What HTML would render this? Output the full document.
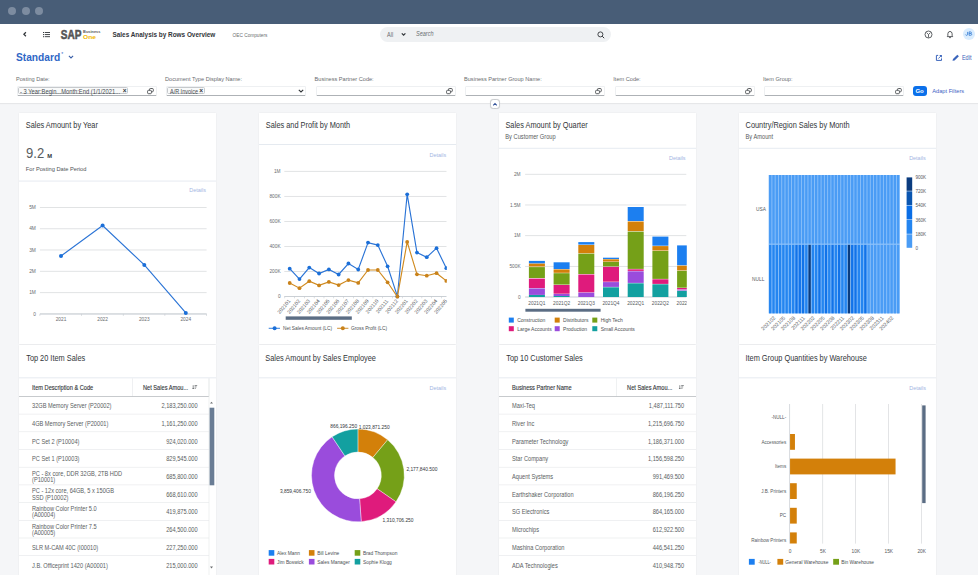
<!DOCTYPE html>
<html><head><meta charset="utf-8">
<style>
*{margin:0;padding:0;box-sizing:border-box}
html,body{width:978px;height:575px;overflow:hidden;background:#f5f6f8;font-family:"Liberation Sans",sans-serif;color:#32363a}
.a{position:absolute;white-space:nowrap}
#top{position:absolute;left:0;top:0;width:978px;height:23.5px;background:#485d77}
.dot{position:absolute;top:6.9px;width:8.3px;height:8.3px;border-radius:50%;background:#7d8ca0}
#shell{position:absolute;left:0;top:23.5px;width:978px;height:79.5px;background:#fff;box-shadow:0 1px 1px rgba(0,0,0,.06)}
.lbl{position:absolute;top:75.5px;font-size:5.6px;color:#6a6d70}
.inp{position:absolute;top:85.5px;width:140px;height:10px;background:#fff;border:0.5px solid #eef0f2;border-bottom:1px solid #aeb2b6;border-radius:1.5px}
.card{position:absolute;background:#fff;width:197px;box-shadow:0 0 1.5px rgba(0,0,0,.08)}
.ttl{position:absolute;left:7px;font-size:7.8px;letter-spacing:-0.2px;color:#32363a}
.sub{position:absolute;left:7px;font-size:5.6px;color:#6a6d70}
.det{position:absolute;right:10px;font-size:5.4px;color:#a5c4ea}
</style></head><body>
<div id="top">
  <div class="dot" style="left:7.9px"></div>
  <div class="dot" style="left:21.8px"></div>
  <div class="dot" style="left:34.8px"></div>
</div>
<div id="shell"></div>
<!-- shell bar -->
<svg class="a" style="left:22px;top:31px" width="6" height="7" viewBox="0 0 6 7"><path d="M3.9 1.3 L1.9 3.3 L3.9 5.3" fill="none" stroke="#32363a" stroke-width="1.25"/></svg>
<svg class="a" style="left:43px;top:31px" width="8" height="7" viewBox="0 0 8 7"><g fill="#32363a"><rect x="0" y="1" width="1.1" height="1"/><rect x="0" y="3.1" width="1.1" height="1"/><rect x="0" y="5.2" width="1.1" height="1"/><rect x="1.8" y="1.05" width="5.2" height="0.9"/><rect x="1.8" y="3.15" width="5.2" height="0.9"/><rect x="1.8" y="5.25" width="5.2" height="0.9"/></g></svg>
<svg class="a" style="left:55px;top:26px" width="50" height="18" viewBox="55 26 50 18" font-family="Liberation Sans" font-weight="bold"><text transform="translate(60.7 38.8) scale(0.8 1)" font-size="12.6" fill="#545454" stroke="#545454" stroke-width="0.55">SAP</text><text x="83.1" y="33.3" font-size="3.9" fill="#5a5a5a">Business</text><text transform="translate(83.1 38.6) scale(1.16 1)" font-size="5.7" fill="#f2b600">One</text></svg>


<svg class="a" style="left:110px;top:26px" width="170" height="16" viewBox="110 26 170 16" font-family="Liberation Sans"><text transform="translate(112.5 37.1) scale(0.866 1)" font-size="7.4" font-weight="bold" fill="#32363a">Sales Analysis by Rows Overview</text><text transform="translate(232.6 37.0) scale(0.88 1)" font-size="5.4" fill="#6a6d70">OEC Computers</text></svg>

<div class="a" style="left:380px;top:27px;width:231px;height:15px;border-radius:7.5px;background:#eff1f3"></div>
<svg class="a" style="left:380px;top:27px" width="60" height="15" viewBox="380 27 60 15" font-family="Liberation Sans"><text transform="translate(387 36.6) scale(0.86 1)" font-size="6.4" fill="#6a6d70">All</text><text transform="translate(416.1 36.4) scale(0.86 1)" font-size="6.4" font-style="italic" fill="#6a6d70">Search</text><path d="M401.8 33.4 L403.6 35.2 L405.4 33.4" fill="none" stroke="#32363a" stroke-width="1.25"/></svg>


<svg class="a" style="left:597px;top:31px" width="8" height="8" viewBox="0 0 8 8"><circle cx="3.4" cy="3.4" r="2.5" fill="none" stroke="#32363a" stroke-width="0.9"/><path d="M5.2 5.2 L7.2 7.2" stroke="#32363a" stroke-width="1"/></svg>
<svg class="a" style="left:924px;top:29.8px" width="9" height="9" viewBox="0 0 9 9"><circle cx="4.5" cy="4.5" r="3.5" fill="none" stroke="#45494d" stroke-width="0.85"/><path d="M2.6 2.6 L4.5 4.6 L6.4 2.6 M4.5 4.6 L4.5 7.6" fill="none" stroke="#45494d" stroke-width="0.8"/></svg>
<svg class="a" style="left:945.8px;top:29.9px" width="8" height="9" viewBox="0 0 8 9"><path d="M1.3 6.6 L1.8 5.8 L1.9 3.6 Q2.1 1.5 4 1.4 Q5.9 1.5 6.1 3.6 L6.2 5.8 L6.7 6.6 Z" fill="none" stroke="#32363a" stroke-width="0.8"/><path d="M3.1 7.6 L4.9 7.6" stroke="#32363a" stroke-width="0.8"/></svg>
<div class="a" style="left:962.5px;top:28.2px;width:12px;height:12px;border-radius:50%;background:#d9ecfe"></div>
<svg class="a" style="left:962px;top:28px" width="14" height="12" viewBox="0 0 14 12" font-family="Liberation Sans"><g fill="none" stroke="#3a7fd5" stroke-width="0.85"><path d="M5.6 3.9 L5.6 6.4 Q5.6 7.3 4.6 7.3 Q3.8 7.3 3.5 6.6"/><path d="M7.1 3.9 L7.1 7.3 L8.6 7.3 Q9.7 7.3 9.7 6.35 Q9.7 5.5 8.5 5.5 L7.1 5.5 M7.1 3.9 L8.4 3.9 Q9.4 3.9 9.4 4.7 Q9.4 5.5 8.4 5.5"/></g></svg>
<!-- page header -->
<div class="a" style="left:16px;top:52.1px;font-size:10.2px;font-weight:bold;color:#2f67c6;line-height:12px">Standard</div>
<div class="a" style="left:61.3px;top:51.3px;font-size:5px;color:#2f67c6;line-height:6px">*</div>
<svg class="a" style="left:67.5px;top:55.2px" width="6" height="4" viewBox="0 0 6 4"><path d="M0.9 0.9 L3 3 L5.1 0.9" fill="none" stroke="#3a5fa8" stroke-width="1.1"/></svg>
<svg class="a" style="left:935px;top:54px" width="8" height="8" viewBox="0 0 8 8"><path d="M3.2 1.4 L1.4 1.4 L1.4 6.4 L6.5 6.4 L6.5 4.4" fill="none" stroke="#3a64bb" stroke-width="1"/><path d="M3.3 4.6 L6.1 1.8" fill="none" stroke="#3a64bb" stroke-width="0.9"/><path d="M4.2 1.0 L6.9 1.0 L6.9 3.7 Z" fill="#3a64bb"/></svg>
<svg class="a" style="left:952px;top:54px" width="8" height="8" viewBox="0 0 8 8"><path d="M0.5 6.7 L1.0 5.0 L5.3 0.7 L6.9 2.3 L2.6 6.6 Z" fill="#3a64bb"/></svg>
<svg class="a" style="left:960px;top:52px" width="18" height="10" viewBox="960 52 18 10" font-family="Liberation Sans"><text transform="translate(961.9 59.7) scale(0.84 1)" font-size="6.6" fill="#3a64bb">Edit</text></svg>
<!-- filter bar -->
<div class="lbl" style="left:16px">Posting Date:</div>
<div class="lbl" style="left:165px">Document Type Display Name:</div>
<div class="lbl" style="left:314.6px">Business Partner Code:</div>
<div class="lbl" style="left:464px">Business Partner Group Name:</div>
<div class="lbl" style="left:613.3px">Item Code:</div>
<div class="lbl" style="left:763px">Item Group:</div>
<div class="inp" style="left:16.5px"></div>
<div class="inp" style="left:166px"></div>
<div class="inp" style="left:315.5px"></div>
<div class="inp" style="left:465px"></div>
<div class="inp" style="left:614.5px"></div>
<div class="inp" style="left:764px"></div>

<div class="a" style="left:18.3px;top:87.2px;width:110px;height:6.8px;background:#f9fafa;border:0.5px solid #c6c9cc;border-radius:1.5px"></div>
<div class="a" style="left:20.1px;top:87.5px;font-size:6.5px;color:#484c50;line-height:7px;transform:scaleX(0.89);transform-origin:0 0">- 3 Year:Begin...Month:End (1/1/2021...</div>
<div class="a" style="left:122.7px;top:87px;font-size:6.5px;font-weight:bold;color:#32363a;line-height:7px">&#215;</div>
<svg class="a" style="left:147.4px;top:87.9px" width="7" height="7" viewBox="0 0 7 7"><rect x="2.5" y="0.5" width="3.8" height="3.3" rx="0.9" fill="none" stroke="#3d4145" stroke-width="0.85"/><rect x="0.6" y="2.3" width="3.8" height="3.4" rx="0.9" fill="#fff" stroke="#3d4145" stroke-width="0.85"/></svg>
<div class="a" style="left:166.6px;top:87.2px;width:38px;height:6.8px;background:#f9fafa;border:0.5px solid #c6c9cc;border-radius:1.5px"></div>
<div class="a" style="left:170px;top:87.5px;font-size:6.5px;color:#484c50;line-height:7px;transform:scaleX(0.84);transform-origin:0 0">A/R Invoice</div>
<div class="a" style="left:199.2px;top:87px;font-size:6.5px;font-weight:bold;color:#32363a;line-height:7px">&#215;</div>
<svg class="a" style="left:298px;top:89px" width="6" height="4" viewBox="0 0 6 4"><path d="M0.8 0.8 L3 3 L5.2 0.8" fill="none" stroke="#32363a" stroke-width="1.1"/></svg>
<svg class="a" style="left:445.9px;top:87.9px" width="7" height="7" viewBox="0 0 7 7"><rect x="2.5" y="0.5" width="3.8" height="3.3" rx="0.9" fill="none" stroke="#3d4145" stroke-width="0.85"/><rect x="0.6" y="2.3" width="3.8" height="3.4" rx="0.9" fill="#fff" stroke="#3d4145" stroke-width="0.85"/></svg><svg class="a" style="left:595.4px;top:87.9px" width="7" height="7" viewBox="0 0 7 7"><rect x="2.5" y="0.5" width="3.8" height="3.3" rx="0.9" fill="none" stroke="#3d4145" stroke-width="0.85"/><rect x="0.6" y="2.3" width="3.8" height="3.4" rx="0.9" fill="#fff" stroke="#3d4145" stroke-width="0.85"/></svg><svg class="a" style="left:744.9px;top:87.9px" width="7" height="7" viewBox="0 0 7 7"><rect x="2.5" y="0.5" width="3.8" height="3.3" rx="0.9" fill="none" stroke="#3d4145" stroke-width="0.85"/><rect x="0.6" y="2.3" width="3.8" height="3.4" rx="0.9" fill="#fff" stroke="#3d4145" stroke-width="0.85"/></svg><svg class="a" style="left:895.4px;top:87.9px" width="7" height="7" viewBox="0 0 7 7"><rect x="2.5" y="0.5" width="3.8" height="3.3" rx="0.9" fill="none" stroke="#3d4145" stroke-width="0.85"/><rect x="0.6" y="2.3" width="3.8" height="3.4" rx="0.9" fill="#fff" stroke="#3d4145" stroke-width="0.85"/></svg>
<div class="a" style="left:912.7px;top:85.8px;width:14px;height:9.8px;border-radius:3px;background:#0b70ea"></div>
<div class="a" style="left:915.4px;top:87.6px;font-size:6px;font-weight:bold;color:#fff;line-height:7px">Go</div>
<div class="a" style="left:932.2px;top:87.6px;font-size:5.7px;color:#3d62c4;line-height:7px">Adapt Filters</div>
<div class="a" style="left:490.3px;top:99.3px;width:9.8px;height:9.8px;border-radius:3.2px;background:#fff;border:0.8px solid #c9cccf;box-shadow:0 0 1px rgba(0,0,0,.1)"></div>
<svg class="a" style="left:492.2px;top:101.6px" width="6" height="5" viewBox="0 0 6 5"><path d="M1.2 3.3 L3 1.5 L4.8 3.3" fill="none" stroke="#34549a" stroke-width="1.05"/></svg>
<!-- cards row 1 -->
<div class="card" style="left:19px;top:113px;height:230.8px"></div>
<!--card1-->
<svg class="a" style="left:19px;top:113px;overflow:hidden" width="197" height="230" viewBox="19 113 197 230" font-family="Liberation Sans">
<text transform="translate(25.80 127.70) scale(0.858 1)" font-size="8.6" fill="#32363a">Sales Amount by Year</text>
<text transform="translate(26.00 157.80) scale(0.86 1)" font-size="15.2" fill="#5a5e62">9.2</text>
<text x="47.2" y="158" font-size="5.8" font-weight="bold" fill="#32363a">M</text>
<text transform="translate(25.80 171.00) scale(0.965 1)" font-size="5.9" fill="#505458">For Posting Date Period</text>
<rect x="19" y="180.6" width="197" height="0.9" fill="#e3e8ef"/>
<text transform="translate(205.90 192.40) scale(0.88 1)" font-size="6.2" text-anchor="end" fill="#a3b5e3">Details</text>
<rect x="39.9" y="207.05" width="166.7" height="0.85" fill="#dcdee0"/>
<text x="35.8" y="209.1" font-size="4.8" text-anchor="end" fill="#6a6d70">5M</text>
<rect x="39.9" y="228.35" width="166.7" height="0.85" fill="#dcdee0"/>
<text x="35.8" y="230.39999999999998" font-size="4.8" text-anchor="end" fill="#6a6d70">4M</text>
<rect x="39.9" y="249.55" width="166.7" height="0.85" fill="#dcdee0"/>
<text x="35.8" y="251.6" font-size="4.8" text-anchor="end" fill="#6a6d70">3M</text>
<rect x="39.9" y="270.84999999999997" width="166.7" height="0.85" fill="#dcdee0"/>
<text x="35.8" y="272.9" font-size="4.8" text-anchor="end" fill="#6a6d70">2M</text>
<rect x="39.9" y="292.25" width="166.7" height="0.85" fill="#dcdee0"/>
<text x="35.8" y="294.3" font-size="4.8" text-anchor="end" fill="#6a6d70">1M</text>
<rect x="39.9" y="313.54999999999995" width="166.7" height="0.85" fill="#dcdee0"/>
<text x="35.8" y="315.59999999999997" font-size="4.8" text-anchor="end" fill="#6a6d70">0</text>
<rect x="39.9" y="313.5" width="166.7" height="0.9" fill="#c6cbd1"/>
<rect x="39.6" y="313.9" width="0.6" height="2" fill="#c6cbd1"/>
<rect x="81.3" y="313.9" width="0.6" height="2" fill="#c6cbd1"/>
<rect x="122.9" y="313.9" width="0.6" height="2" fill="#c6cbd1"/>
<rect x="164.6" y="313.9" width="0.6" height="2" fill="#c6cbd1"/>
<rect x="206.29999999999998" y="313.9" width="0.6" height="2" fill="#c6cbd1"/>
<text x="61" y="321.3" font-size="4.8" text-anchor="middle" fill="#6a6d70">2021</text>
<text x="102.6" y="321.3" font-size="4.8" text-anchor="middle" fill="#6a6d70">2022</text>
<text x="144.3" y="321.3" font-size="4.8" text-anchor="middle" fill="#6a6d70">2023</text>
<text x="185.8" y="321.3" font-size="4.8" text-anchor="middle" fill="#6a6d70">2024</text>
<polyline points="61,256 102.6,225.6 144.3,264.9 185.8,312.9" fill="none" stroke="#2b74d6" stroke-width="1.15"/>
<circle cx="61" cy="256" r="2.0" fill="#1b6fd8"/>
<circle cx="102.6" cy="225.6" r="2.0" fill="#1b6fd8"/>
<circle cx="144.3" cy="264.9" r="2.0" fill="#1b6fd8"/>
<circle cx="185.8" cy="312.9" r="2.0" fill="#1b6fd8"/>
</svg>
<!--/card1-->
<div class="card" style="left:259px;top:113px;height:230.8px"></div>
<!--card2-->
<svg class="a" style="left:259px;top:113px;overflow:hidden" width="197" height="230" viewBox="259 113 197 230" font-family="Liberation Sans">
<text transform="translate(265.80 127.70) scale(0.858 1)" font-size="8.6" fill="#32363a">Sales and Profit by Month</text>
<rect x="259" y="144.1" width="197" height="0.9" fill="#e3e8ef"/>
<text transform="translate(446.20 156.70) scale(0.88 1)" font-size="6.2" text-anchor="end" fill="#a3b5e3">Details</text>
<text x="280.6" y="298.20" font-size="4.8" text-anchor="end" fill="#6a6d70">0</text>
<rect x="284.3" y="271.10" width="162.2" height="0.85" fill="#dcdee0"/>
<text x="280.6" y="273.15" font-size="4.8" text-anchor="end" fill="#6a6d70">200K</text>
<rect x="284.3" y="246.05" width="162.2" height="0.85" fill="#dcdee0"/>
<text x="280.6" y="248.10" font-size="4.8" text-anchor="end" fill="#6a6d70">400K</text>
<rect x="284.3" y="221.00" width="162.2" height="0.85" fill="#dcdee0"/>
<text x="280.6" y="223.05" font-size="4.8" text-anchor="end" fill="#6a6d70">600K</text>
<rect x="284.3" y="195.95" width="162.2" height="0.85" fill="#dcdee0"/>
<text x="280.6" y="198.00" font-size="4.8" text-anchor="end" fill="#6a6d70">800K</text>
<rect x="284.3" y="170.90" width="162.2" height="0.85" fill="#dcdee0"/>
<text x="280.6" y="172.95" font-size="4.8" text-anchor="end" fill="#6a6d70">1M</text>
<rect x="284.3" y="296.05" width="162.2" height="0.9" fill="#c6cbd1"/>
<rect x="284.50" y="296.5" width="0.6" height="1.8" fill="#c6cbd1"/>
<rect x="294.29" y="296.5" width="0.6" height="1.8" fill="#c6cbd1"/>
<rect x="304.08" y="296.5" width="0.6" height="1.8" fill="#c6cbd1"/>
<rect x="313.87" y="296.5" width="0.6" height="1.8" fill="#c6cbd1"/>
<rect x="323.66" y="296.5" width="0.6" height="1.8" fill="#c6cbd1"/>
<rect x="333.45" y="296.5" width="0.6" height="1.8" fill="#c6cbd1"/>
<rect x="343.24" y="296.5" width="0.6" height="1.8" fill="#c6cbd1"/>
<rect x="353.03" y="296.5" width="0.6" height="1.8" fill="#c6cbd1"/>
<rect x="362.82" y="296.5" width="0.6" height="1.8" fill="#c6cbd1"/>
<rect x="372.61" y="296.5" width="0.6" height="1.8" fill="#c6cbd1"/>
<rect x="382.40" y="296.5" width="0.6" height="1.8" fill="#c6cbd1"/>
<rect x="392.19" y="296.5" width="0.6" height="1.8" fill="#c6cbd1"/>
<rect x="401.98" y="296.5" width="0.6" height="1.8" fill="#c6cbd1"/>
<rect x="411.77" y="296.5" width="0.6" height="1.8" fill="#c6cbd1"/>
<rect x="421.56" y="296.5" width="0.6" height="1.8" fill="#c6cbd1"/>
<rect x="431.35" y="296.5" width="0.6" height="1.8" fill="#c6cbd1"/>
<rect x="441.14" y="296.5" width="0.6" height="1.8" fill="#c6cbd1"/>
<text transform="translate(290.70,301.2) rotate(-50)" font-size="5.1" text-anchor="end" fill="#55595d">202101</text>
<text transform="translate(300.49,301.2) rotate(-50)" font-size="5.1" text-anchor="end" fill="#55595d">202102</text>
<text transform="translate(310.28,301.2) rotate(-50)" font-size="5.1" text-anchor="end" fill="#55595d">202103</text>
<text transform="translate(320.07,301.2) rotate(-50)" font-size="5.1" text-anchor="end" fill="#55595d">202104</text>
<text transform="translate(329.86,301.2) rotate(-50)" font-size="5.1" text-anchor="end" fill="#55595d">202105</text>
<text transform="translate(339.65,301.2) rotate(-50)" font-size="5.1" text-anchor="end" fill="#55595d">202106</text>
<text transform="translate(349.44,301.2) rotate(-50)" font-size="5.1" text-anchor="end" fill="#55595d">202107</text>
<text transform="translate(359.23,301.2) rotate(-50)" font-size="5.1" text-anchor="end" fill="#55595d">202108</text>
<text transform="translate(369.02,301.2) rotate(-50)" font-size="5.1" text-anchor="end" fill="#55595d">202109</text>
<text transform="translate(378.81,301.2) rotate(-50)" font-size="5.1" text-anchor="end" fill="#55595d">202110</text>
<text transform="translate(388.60,301.2) rotate(-50)" font-size="5.1" text-anchor="end" fill="#55595d">202111</text>
<text transform="translate(398.39,301.2) rotate(-50)" font-size="5.1" text-anchor="end" fill="#55595d">202112</text>
<text transform="translate(408.18,301.2) rotate(-50)" font-size="5.1" text-anchor="end" fill="#55595d">202201</text>
<text transform="translate(417.97,301.2) rotate(-50)" font-size="5.1" text-anchor="end" fill="#55595d">202202</text>
<text transform="translate(427.76,301.2) rotate(-50)" font-size="5.1" text-anchor="end" fill="#55595d">202203</text>
<text transform="translate(437.55,301.2) rotate(-50)" font-size="5.1" text-anchor="end" fill="#55595d">202204</text>
<text transform="translate(447.34,301.2) rotate(-50)" font-size="5.1" text-anchor="end" fill="#55595d">202205</text>
<g clip-path="url(#c2clip)">
<clipPath id="c2clip"><rect x="270" y="160" width="176.8" height="140"/></clipPath>
<polyline points="289.70,268.7 299.49,279.1 309.28,267.6 319.07,273.5 328.86,269.4 338.65,274.5 348.44,263.5 358.23,269.5 368.02,242.6 377.81,245.1 387.60,266.3 397.39,296.4 407.18,194.3 416.97,252.6 426.76,257.2 436.55,248.2 446.34,268.2" fill="none" stroke="#2b74d6" stroke-width="1.15"/>
<circle cx="289.70" cy="268.7" r="1.9" fill="#1b6fd8"/>
<circle cx="299.49" cy="279.1" r="1.9" fill="#1b6fd8"/>
<circle cx="309.28" cy="267.6" r="1.9" fill="#1b6fd8"/>
<circle cx="319.07" cy="273.5" r="1.9" fill="#1b6fd8"/>
<circle cx="328.86" cy="269.4" r="1.9" fill="#1b6fd8"/>
<circle cx="338.65" cy="274.5" r="1.9" fill="#1b6fd8"/>
<circle cx="348.44" cy="263.5" r="1.9" fill="#1b6fd8"/>
<circle cx="358.23" cy="269.5" r="1.9" fill="#1b6fd8"/>
<circle cx="368.02" cy="242.6" r="1.9" fill="#1b6fd8"/>
<circle cx="377.81" cy="245.1" r="1.9" fill="#1b6fd8"/>
<circle cx="387.60" cy="266.3" r="1.9" fill="#1b6fd8"/>
<circle cx="397.39" cy="296.4" r="1.9" fill="#1b6fd8"/>
<circle cx="407.18" cy="194.3" r="1.9" fill="#1b6fd8"/>
<circle cx="416.97" cy="252.6" r="1.9" fill="#1b6fd8"/>
<circle cx="426.76" cy="257.2" r="1.9" fill="#1b6fd8"/>
<circle cx="436.55" cy="248.2" r="1.9" fill="#1b6fd8"/>
<circle cx="446.34" cy="268.2" r="1.9" fill="#1b6fd8"/>
<polyline points="289.70,283 299.49,288.2 309.28,281.2 319.07,285.4 328.86,281.9 338.65,285.1 348.44,280.1 358.23,282.9 368.02,270 377.81,270 387.60,282.3 397.39,296.7 407.18,241.9 416.97,274.3 426.76,275.7 436.55,273.2 446.34,280.9" fill="none" stroke="#d08a1e" stroke-width="1.15"/>
<circle cx="289.70" cy="283" r="1.9" fill="#c9821a"/>
<circle cx="299.49" cy="288.2" r="1.9" fill="#c9821a"/>
<circle cx="309.28" cy="281.2" r="1.9" fill="#c9821a"/>
<circle cx="319.07" cy="285.4" r="1.9" fill="#c9821a"/>
<circle cx="328.86" cy="281.9" r="1.9" fill="#c9821a"/>
<circle cx="338.65" cy="285.1" r="1.9" fill="#c9821a"/>
<circle cx="348.44" cy="280.1" r="1.9" fill="#c9821a"/>
<circle cx="358.23" cy="282.9" r="1.9" fill="#c9821a"/>
<circle cx="368.02" cy="270" r="1.9" fill="#c9821a"/>
<circle cx="377.81" cy="270" r="1.9" fill="#c9821a"/>
<circle cx="387.60" cy="282.3" r="1.9" fill="#c9821a"/>
<circle cx="397.39" cy="296.7" r="1.9" fill="#c9821a"/>
<circle cx="407.18" cy="241.9" r="1.9" fill="#c9821a"/>
<circle cx="416.97" cy="274.3" r="1.9" fill="#c9821a"/>
<circle cx="426.76" cy="275.7" r="1.9" fill="#c9821a"/>
<circle cx="436.55" cy="273.2" r="1.9" fill="#c9821a"/>
<circle cx="446.34" cy="280.9" r="1.9" fill="#c9821a"/>
</g>
<rect x="285.7" y="316.4" width="66.1" height="3.4" fill="#5b6d84"/>
<rect x="268.7" y="327.8" width="11.3" height="0.9" fill="#1b6fd8"/><circle cx="274.6" cy="328.2" r="2" fill="#1b6fd8"/>
<text x="283" y="329.9" font-size="4.8" fill="#4b4f53">Net Sales Amount (LC)</text>
<rect x="337.1" y="327.8" width="11.3" height="0.9" fill="#c9821a"/><circle cx="342.8" cy="328.2" r="2" fill="#c9821a"/>
<text x="351" y="329.9" font-size="4.8" fill="#4b4f53">Gross Profit (LC)</text>
</svg>
<!--/card2-->
<div class="card" style="left:499px;top:113px;height:230.8px"></div>
<!--card3-->
<svg class="a" style="left:499px;top:113px;overflow:hidden" width="197" height="230" viewBox="499 113 197 230" font-family="Liberation Sans">
<text transform="translate(505.40 127.70) scale(0.858 1)" font-size="8.6" fill="#32363a">Sales Amount by Quarter</text>
<text transform="translate(505.30 138.60) scale(0.877 1)" font-size="6.5" fill="#585c60">By Customer Group</text>
<rect x="499" y="147.8" width="197" height="0.9" fill="#e3e8ef"/>
<text transform="translate(685.60 159.60) scale(0.88 1)" font-size="6.2" text-anchor="end" fill="#a3b5e3">Details</text>
<text x="520.6" y="298.70" font-size="4.8" text-anchor="end" fill="#6a6d70">0</text>
<rect x="525.1" y="265.95" width="161.2" height="0.85" fill="#dcdee0"/>
<text x="520.6" y="268.00" font-size="4.8" text-anchor="end" fill="#6a6d70">500K</text>
<rect x="525.1" y="235.25" width="161.2" height="0.85" fill="#dcdee0"/>
<text x="520.6" y="237.30" font-size="4.8" text-anchor="end" fill="#6a6d70">1M</text>
<rect x="525.1" y="204.55" width="161.2" height="0.85" fill="#dcdee0"/>
<text x="520.6" y="206.60" font-size="4.8" text-anchor="end" fill="#6a6d70">1.5M</text>
<rect x="525.1" y="173.85" width="161.2" height="0.85" fill="#dcdee0"/>
<text x="520.6" y="175.90" font-size="4.8" text-anchor="end" fill="#6a6d70">2M</text>
<rect x="525.1" y="296.55" width="161.2" height="0.9" fill="#c6cbd1"/>
<clipPath id="c3clip"><rect x="525" y="160" width="161.8" height="140"/></clipPath><g clip-path="url(#c3clip)">
<rect x="528.90" y="294.9" width="16" height="2.10" fill="#13a0a0"/>
<rect x="528.90" y="288.4" width="16" height="6.50" fill="#9a4cdc"/>
<rect x="528.90" y="278.6" width="16" height="9.40" fill="#df1b7c"/>
<rect x="528.90" y="267.1" width="16" height="10.90" fill="#75a018"/>
<rect x="528.90" y="263.5" width="16" height="3.00" fill="#d3800a"/>
<rect x="528.90" y="260.9" width="16" height="2.40" fill="#1c7ff0"/>
<rect x="553.60" y="296.0" width="16" height="1.00" fill="#13a0a0"/>
<rect x="553.60" y="294.0" width="16" height="2.00" fill="#9a4cdc"/>
<rect x="553.60" y="285.0" width="16" height="8.70" fill="#df1b7c"/>
<rect x="553.60" y="273.2" width="16" height="11.40" fill="#75a018"/>
<rect x="553.60" y="269.4" width="16" height="3.40" fill="#d3800a"/>
<rect x="553.60" y="262.3" width="16" height="6.70" fill="#1c7ff0"/>
<rect x="578.30" y="292.6" width="16" height="4.40" fill="#9a4cdc"/>
<rect x="578.30" y="274.5" width="16" height="17.80" fill="#df1b7c"/>
<rect x="578.30" y="253.6" width="16" height="20.40" fill="#75a018"/>
<rect x="578.30" y="245.0" width="16" height="8.20" fill="#d3800a"/>
<rect x="578.30" y="242.1" width="16" height="2.50" fill="#1c7ff0"/>
<rect x="603.00" y="287.3" width="16" height="9.70" fill="#13a0a0"/>
<rect x="603.00" y="282.1" width="16" height="4.80" fill="#9a4cdc"/>
<rect x="603.00" y="266.8" width="16" height="14.90" fill="#df1b7c"/>
<rect x="603.00" y="261.9" width="16" height="4.50" fill="#75a018"/>
<rect x="603.00" y="259.3" width="16" height="2.30" fill="#d3800a"/>
<rect x="603.00" y="257.7" width="16" height="1.30" fill="#1c7ff0"/>
<rect x="627.70" y="283.3" width="16" height="13.70" fill="#13a0a0"/>
<rect x="627.70" y="271.3" width="16" height="11.60" fill="#9a4cdc"/>
<rect x="627.70" y="269.3" width="16" height="1.60" fill="#df1b7c"/>
<rect x="627.70" y="231.6" width="16" height="37.30" fill="#75a018"/>
<rect x="627.70" y="221.5" width="16" height="9.60" fill="#d3800a"/>
<rect x="627.70" y="207.0" width="16" height="14.00" fill="#1c7ff0"/>
<rect x="652.40" y="284.3" width="16" height="12.70" fill="#13a0a0"/>
<rect x="652.40" y="279.3" width="16" height="4.60" fill="#df1b7c"/>
<rect x="652.40" y="250.9" width="16" height="28.00" fill="#75a018"/>
<rect x="652.40" y="246.1" width="16" height="4.40" fill="#d3800a"/>
<rect x="652.40" y="236.6" width="16" height="9.10" fill="#1c7ff0"/>
<rect x="677.10" y="290.8" width="16" height="6.20" fill="#13a0a0"/>
<rect x="677.10" y="289.6" width="16" height="0.90" fill="#9a4cdc"/>
<rect x="677.10" y="288.0" width="16" height="1.30" fill="#df1b7c"/>
<rect x="677.10" y="270.8" width="16" height="16.90" fill="#75a018"/>
<rect x="677.10" y="265.6" width="16" height="4.80" fill="#d3800a"/>
<rect x="677.10" y="245.4" width="16" height="19.80" fill="#1c7ff0"/>
</g>
<clipPath id="c3clip2"><rect x="520" y="295" width="166.8" height="20"/></clipPath><g clip-path="url(#c3clip2)">
<text x="536.90" y="304.7" font-size="4.8" text-anchor="middle" fill="#55595d">2021Q1</text>
<text x="561.60" y="304.7" font-size="4.8" text-anchor="middle" fill="#55595d">2021Q2</text>
<text x="586.30" y="304.7" font-size="4.8" text-anchor="middle" fill="#55595d">2021Q3</text>
<text x="611.00" y="304.7" font-size="4.8" text-anchor="middle" fill="#55595d">2021Q4</text>
<text x="635.70" y="304.7" font-size="4.8" text-anchor="middle" fill="#55595d">2022Q1</text>
<text x="660.40" y="304.7" font-size="4.8" text-anchor="middle" fill="#55595d">2022Q2</text>
<text x="685.10" y="304.7" font-size="4.8" text-anchor="middle" fill="#55595d">2022Q3</text>
</g>
<rect x="525.4" y="308.8" width="75.2" height="2.9" fill="#5b6d84"/>
<rect x="508.8" y="317.6" width="5" height="5" fill="#1c7ff0"/>
<text x="517.2" y="321.90000000000003" font-size="5" fill="#4b4f53">Construction</text>
<rect x="554.7" y="317.6" width="5" height="5" fill="#d3800a"/>
<text x="563.1" y="321.90000000000003" font-size="5" fill="#4b4f53">Distributors</text>
<rect x="592.3" y="317.6" width="5" height="5" fill="#75a018"/>
<text x="600.7" y="321.90000000000003" font-size="5" fill="#4b4f53">High Tech</text>
<rect x="508.8" y="326.2" width="5" height="5" fill="#df1b7c"/>
<text x="517.2" y="330.5" font-size="5" fill="#4b4f53">Large Accounts</text>
<rect x="554.7" y="326.2" width="5" height="5" fill="#9a4cdc"/>
<text x="563.1" y="330.5" font-size="5" fill="#4b4f53">Production</text>
<rect x="592.3" y="326.2" width="5" height="5" fill="#13a0a0"/>
<text x="600.7" y="330.5" font-size="5" fill="#4b4f53">Small Accounts</text>
</svg>
<!--/card3-->
<div class="card" style="left:738.8px;top:113px;height:230.8px"></div>
<!--card4-->
<svg class="a" style="left:738.8px;top:113px;overflow:hidden" width="197" height="230" viewBox="738.8 113 197 230" font-family="Liberation Sans">
<text transform="translate(745.40 127.70) scale(0.858 1)" font-size="8.6" fill="#32363a">Country/Region Sales by Month</text>
<text transform="translate(745.30 138.60) scale(0.877 1)" font-size="6.5" fill="#585c60">By Amount</text>
<rect x="738.8" y="147.8" width="197" height="0.9" fill="#e3e8ef"/>
<text transform="translate(925.60 159.60) scale(0.88 1)" font-size="6.2" text-anchor="end" fill="#a3b5e3">Details</text>
<rect x="768.4" y="175" width="131.20" height="138.4" fill="#8ec2fa"/>
<rect x="768.85" y="175" width="2.38" height="68.6" fill="#4a9cf5"/>
<rect x="768.85" y="244.8" width="2.38" height="68.6" fill="#2485f0"/>
<rect x="772.13" y="175" width="2.38" height="68.6" fill="#4a9cf5"/>
<rect x="772.13" y="244.8" width="2.38" height="68.6" fill="#2485f0"/>
<rect x="775.41" y="175" width="2.38" height="68.6" fill="#4a9cf5"/>
<rect x="775.41" y="244.8" width="2.38" height="68.6" fill="#2485f0"/>
<rect x="778.69" y="175" width="2.38" height="68.6" fill="#4a9cf5"/>
<rect x="778.69" y="244.8" width="2.38" height="68.6" fill="#2485f0"/>
<rect x="781.97" y="175" width="2.38" height="68.6" fill="#4a9cf5"/>
<rect x="781.97" y="244.8" width="2.38" height="68.6" fill="#2485f0"/>
<rect x="785.25" y="175" width="2.38" height="68.6" fill="#4a9cf5"/>
<rect x="785.25" y="244.8" width="2.38" height="68.6" fill="#2485f0"/>
<rect x="788.53" y="175" width="2.38" height="68.6" fill="#4a9cf5"/>
<rect x="788.53" y="244.8" width="2.38" height="68.6" fill="#2485f0"/>
<rect x="791.81" y="175" width="2.38" height="68.6" fill="#4a9cf5"/>
<rect x="791.81" y="244.8" width="2.38" height="68.6" fill="#2485f0"/>
<rect x="795.09" y="175" width="2.38" height="68.6" fill="#4a9cf5"/>
<rect x="795.09" y="244.8" width="2.38" height="68.6" fill="#1173e9"/>
<rect x="798.37" y="175" width="2.38" height="68.6" fill="#4a9cf5"/>
<rect x="798.37" y="244.8" width="2.38" height="68.6" fill="#1173e9"/>
<rect x="801.65" y="175" width="2.38" height="68.6" fill="#4a9cf5"/>
<rect x="801.65" y="244.8" width="2.38" height="68.6" fill="#1173e9"/>
<rect x="804.93" y="175" width="2.38" height="68.6" fill="#4a9cf5"/>
<rect x="804.93" y="244.8" width="2.38" height="68.6" fill="#2485f0"/>
<rect x="808.21" y="175" width="2.38" height="68.6" fill="#4a9cf5"/>
<rect x="808.21" y="244.8" width="2.38" height="68.6" fill="#0b3c7f"/>
<rect x="811.49" y="175" width="2.38" height="68.6" fill="#4a9cf5"/>
<rect x="811.49" y="244.8" width="2.38" height="68.6" fill="#2485f0"/>
<rect x="814.77" y="175" width="2.38" height="68.6" fill="#4a9cf5"/>
<rect x="814.77" y="244.8" width="2.38" height="68.6" fill="#2485f0"/>
<rect x="818.05" y="175" width="2.38" height="68.6" fill="#4a9cf5"/>
<rect x="818.05" y="244.8" width="2.38" height="68.6" fill="#1173e9"/>
<rect x="821.33" y="175" width="2.38" height="68.6" fill="#4a9cf5"/>
<rect x="821.33" y="244.8" width="2.38" height="68.6" fill="#2485f0"/>
<rect x="824.61" y="175" width="2.38" height="68.6" fill="#4a9cf5"/>
<rect x="824.61" y="244.8" width="2.38" height="68.6" fill="#1173e9"/>
<rect x="827.89" y="175" width="2.38" height="68.6" fill="#4a9cf5"/>
<rect x="827.89" y="244.8" width="2.38" height="68.6" fill="#2485f0"/>
<rect x="831.17" y="175" width="2.38" height="68.6" fill="#4a9cf5"/>
<rect x="831.17" y="244.8" width="2.38" height="68.6" fill="#1173e9"/>
<rect x="834.45" y="175" width="2.38" height="68.6" fill="#4a9cf5"/>
<rect x="834.45" y="244.8" width="2.38" height="68.6" fill="#2485f0"/>
<rect x="837.73" y="175" width="2.38" height="68.6" fill="#4a9cf5"/>
<rect x="837.73" y="244.8" width="2.38" height="68.6" fill="#1173e9"/>
<rect x="841.01" y="175" width="2.38" height="68.6" fill="#4a9cf5"/>
<rect x="841.01" y="244.8" width="2.38" height="68.6" fill="#2485f0"/>
<rect x="844.29" y="175" width="2.38" height="68.6" fill="#4a9cf5"/>
<rect x="844.29" y="244.8" width="2.38" height="68.6" fill="#2485f0"/>
<rect x="847.57" y="175" width="2.38" height="68.6" fill="#4a9cf5"/>
<rect x="847.57" y="244.8" width="2.38" height="68.6" fill="#0b3c7f"/>
<rect x="850.85" y="175" width="2.38" height="68.6" fill="#4a9cf5"/>
<rect x="850.85" y="244.8" width="2.38" height="68.6" fill="#1173e9"/>
<rect x="854.13" y="175" width="2.38" height="68.6" fill="#4a9cf5"/>
<rect x="854.13" y="244.8" width="2.38" height="68.6" fill="#1173e9"/>
<rect x="857.41" y="175" width="2.38" height="68.6" fill="#4a9cf5"/>
<rect x="857.41" y="244.8" width="2.38" height="68.6" fill="#2485f0"/>
<rect x="860.69" y="175" width="2.38" height="68.6" fill="#4a9cf5"/>
<rect x="860.69" y="244.8" width="2.38" height="68.6" fill="#2485f0"/>
<rect x="863.97" y="175" width="2.38" height="68.6" fill="#4a9cf5"/>
<rect x="863.97" y="244.8" width="2.38" height="68.6" fill="#1173e9"/>
<rect x="867.25" y="175" width="2.38" height="68.6" fill="#4a9cf5"/>
<rect x="867.25" y="244.8" width="2.38" height="68.6" fill="#4a9cf5"/>
<rect x="870.53" y="175" width="2.38" height="68.6" fill="#4a9cf5"/>
<rect x="870.53" y="244.8" width="2.38" height="68.6" fill="#4a9cf5"/>
<rect x="873.81" y="175" width="2.38" height="68.6" fill="#4a9cf5"/>
<rect x="873.81" y="244.8" width="2.38" height="68.6" fill="#4a9cf5"/>
<rect x="877.09" y="175" width="2.38" height="68.6" fill="#4a9cf5"/>
<rect x="877.09" y="244.8" width="2.38" height="68.6" fill="#4a9cf5"/>
<rect x="880.37" y="175" width="2.38" height="68.6" fill="#4a9cf5"/>
<rect x="880.37" y="244.8" width="2.38" height="68.6" fill="#4a9cf5"/>
<rect x="883.65" y="175" width="2.38" height="68.6" fill="#4a9cf5"/>
<rect x="883.65" y="244.8" width="2.38" height="68.6" fill="#4a9cf5"/>
<rect x="886.93" y="175" width="2.38" height="68.6" fill="#4a9cf5"/>
<rect x="886.93" y="244.8" width="2.38" height="68.6" fill="#4a9cf5"/>
<rect x="890.21" y="175" width="2.38" height="68.6" fill="#4a9cf5"/>
<rect x="890.21" y="244.8" width="2.38" height="68.6" fill="#4a9cf5"/>
<rect x="893.49" y="175" width="2.38" height="68.6" fill="#4a9cf5"/>
<rect x="893.49" y="244.8" width="2.38" height="68.6" fill="#4a9cf5"/>
<rect x="896.77" y="175" width="2.38" height="68.6" fill="#4a9cf5"/>
<rect x="896.77" y="244.8" width="2.38" height="68.6" fill="#4a9cf5"/>
<text x="765.8" y="211.4" font-size="4.8" text-anchor="end" fill="#55595d">USA</text>
<text x="764.2" y="281.4" font-size="4.8" text-anchor="end" fill="#55595d">NULL</text>
<rect x="906.4" y="177.4" width="5.6" height="13.40" fill="#0b3c7f"/>
<rect x="906.4" y="191.3" width="5.6" height="13.70" fill="#0b56b0"/>
<rect x="906.4" y="205.5" width="5.6" height="14.00" fill="#0a6ee6"/>
<rect x="906.4" y="220.0" width="5.6" height="13.80" fill="#2485f0"/>
<rect x="906.4" y="234.3" width="5.6" height="13.50" fill="#4a9cf5"/>
<text x="915.2" y="179.0" font-size="4.6" fill="#55595d">900K</text>
<text x="915.2" y="192.9" font-size="4.6" fill="#55595d">720K</text>
<text x="915.2" y="207.1" font-size="4.6" fill="#55595d">540K</text>
<text x="915.2" y="221.6" font-size="4.6" fill="#55595d">360K</text>
<text x="915.2" y="235.9" font-size="4.6" fill="#55595d">180K</text>
<text x="915.2" y="249.9" font-size="4.6" fill="#55595d">0</text>
<text transform="translate(775.62,318.3) rotate(-45)" font-size="5.3" text-anchor="end" fill="#55595d">202102</text>
<text transform="translate(785.46,318.3) rotate(-45)" font-size="5.3" text-anchor="end" fill="#55595d">202105</text>
<text transform="translate(795.30,318.3) rotate(-45)" font-size="5.3" text-anchor="end" fill="#55595d">202108</text>
<text transform="translate(805.14,318.3) rotate(-45)" font-size="5.3" text-anchor="end" fill="#55595d">202111</text>
<text transform="translate(814.98,318.3) rotate(-45)" font-size="5.3" text-anchor="end" fill="#55595d">202202</text>
<text transform="translate(824.82,318.3) rotate(-45)" font-size="5.3" text-anchor="end" fill="#55595d">202205</text>
<text transform="translate(834.66,318.3) rotate(-45)" font-size="5.3" text-anchor="end" fill="#55595d">202208</text>
<text transform="translate(844.50,318.3) rotate(-45)" font-size="5.3" text-anchor="end" fill="#55595d">202211</text>
<text transform="translate(854.34,318.3) rotate(-45)" font-size="5.3" text-anchor="end" fill="#55595d">202302</text>
<text transform="translate(864.18,318.3) rotate(-45)" font-size="5.3" text-anchor="end" fill="#55595d">202305</text>
<text transform="translate(874.02,318.3) rotate(-45)" font-size="5.3" text-anchor="end" fill="#55595d">202308</text>
<text transform="translate(883.86,318.3) rotate(-45)" font-size="5.3" text-anchor="end" fill="#55595d">202311</text>
<text transform="translate(893.70,318.3) rotate(-45)" font-size="5.3" text-anchor="end" fill="#55595d">202402</text>
</svg>
<!--/card4-->
<!-- cards row 2 -->
<div class="card" style="left:19px;top:345.3px;height:240px"></div>
<!--card5-->
<svg class="a" style="left:19px;top:345px;overflow:hidden" width="197" height="230" viewBox="19 345 197 230" font-family="Liberation Sans">
<text transform="translate(26.20 360.50) scale(0.858 1)" font-size="8.6" fill="#32363a">Top 20 Item Sales</text>
<rect x="19" y="377.4" width="197" height="0.9" fill="#e3e8ef"/>
<text transform="translate(32.00 390.00) scale(0.872 1)" font-size="6.5" fill="#32363a" stroke="#32363a" stroke-width="0.12">Item Description &amp; Code</text>
<text transform="translate(188.20 390.00) scale(0.872 1)" font-size="6.5" text-anchor="end" fill="#32363a" stroke="#32363a" stroke-width="0.12">Net Sales Amou...</text>
<g stroke="#45494d" stroke-width="0.6" fill="none"><path d="M193.2 385.2 L193.2 388.9 M192.39999999999998 388.0 L193.2 388.9 L194.0 388.0"/><path d="M194.6 385.5 L197.2 385.5 M194.6 386.9 L196.6 386.9 M194.6 388.3 L195.89999999999998 388.3"/></g>
<rect x="132.2" y="378.3" width="0.6" height="18" fill="#e5e7e9"/>
<rect x="208.7" y="378.3" width="0.6" height="18" fill="#e5e7e9"/>
<rect x="19" y="396" width="190" height="0.8" fill="#b9bdc1"/>
<text transform="translate(32.00 408.25) scale(0.872 1)" font-size="6.5" fill="#5a5e62">32GB Memory Server (P20002)</text>
<text transform="translate(197.60 408.25) scale(0.872 1)" font-size="6.5" text-anchor="end" fill="#5a5e62">2,183,250.000</text>
<rect x="19" y="413.80" width="190" height="0.6" fill="#e5e7e9"/>
<text transform="translate(32.00 425.95) scale(0.872 1)" font-size="6.5" fill="#5a5e62">4GB Memory Server (P20001)</text>
<text transform="translate(197.60 425.95) scale(0.872 1)" font-size="6.5" text-anchor="end" fill="#5a5e62">1,161,250.000</text>
<rect x="19" y="431.50" width="190" height="0.6" fill="#e5e7e9"/>
<text transform="translate(32.00 443.65) scale(0.872 1)" font-size="6.5" fill="#5a5e62">PC Set 2 (P10004)</text>
<text transform="translate(197.60 443.65) scale(0.872 1)" font-size="6.5" text-anchor="end" fill="#5a5e62">924,020.000</text>
<rect x="19" y="449.20" width="190" height="0.6" fill="#e5e7e9"/>
<text transform="translate(32.00 461.35) scale(0.872 1)" font-size="6.5" fill="#5a5e62">PC Set 1 (P10003)</text>
<text transform="translate(197.60 461.35) scale(0.872 1)" font-size="6.5" text-anchor="end" fill="#5a5e62">829,545.000</text>
<rect x="19" y="466.90" width="190" height="0.6" fill="#e5e7e9"/>
<text transform="translate(32.00 475.75) scale(0.872 1)" font-size="6.5" fill="#5a5e62">PC - 8x core, DDR 32GB, 2TB HDD</text>
<text transform="translate(32.00 481.95) scale(0.872 1)" font-size="6.5" fill="#5a5e62">(P10001)</text>
<text transform="translate(197.60 479.05) scale(0.872 1)" font-size="6.5" text-anchor="end" fill="#5a5e62">685,800.000</text>
<rect x="19" y="484.60" width="190" height="0.6" fill="#e5e7e9"/>
<text transform="translate(32.00 493.45) scale(0.872 1)" font-size="6.5" fill="#5a5e62">PC - 12x core, 64GB, 5 x 150GB</text>
<text transform="translate(32.00 499.65) scale(0.872 1)" font-size="6.5" fill="#5a5e62">SSD (P10002)</text>
<text transform="translate(197.60 496.75) scale(0.872 1)" font-size="6.5" text-anchor="end" fill="#5a5e62">668,610.000</text>
<rect x="19" y="502.30" width="190" height="0.6" fill="#e5e7e9"/>
<text transform="translate(32.00 511.15) scale(0.872 1)" font-size="6.5" fill="#5a5e62">Rainbow Color Printer 5.0</text>
<text transform="translate(32.00 517.35) scale(0.872 1)" font-size="6.5" fill="#5a5e62">(A00004)</text>
<text transform="translate(197.60 514.45) scale(0.872 1)" font-size="6.5" text-anchor="end" fill="#5a5e62">419,875.000</text>
<rect x="19" y="520.00" width="190" height="0.6" fill="#e5e7e9"/>
<text transform="translate(32.00 528.85) scale(0.872 1)" font-size="6.5" fill="#5a5e62">Rainbow Color Printer 7.5</text>
<text transform="translate(32.00 535.05) scale(0.872 1)" font-size="6.5" fill="#5a5e62">(A00005)</text>
<text transform="translate(197.60 532.15) scale(0.872 1)" font-size="6.5" text-anchor="end" fill="#5a5e62">264,500.000</text>
<rect x="19" y="537.70" width="190" height="0.6" fill="#e5e7e9"/>
<text transform="translate(32.00 549.85) scale(0.872 1)" font-size="6.5" fill="#5a5e62">SLR M-CAM 40C (I00010)</text>
<text transform="translate(197.60 549.85) scale(0.872 1)" font-size="6.5" text-anchor="end" fill="#5a5e62">227,250.000</text>
<rect x="19" y="555.40" width="190" height="0.6" fill="#e5e7e9"/>
<text transform="translate(32.00 567.55) scale(0.872 1)" font-size="6.5" fill="#5a5e62">J.B. Officeprint 1420 (A00001)</text>
<text transform="translate(197.60 567.55) scale(0.872 1)" font-size="6.5" text-anchor="end" fill="#5a5e62">215,000.000</text>
<rect x="208.7" y="378.3" width="0.6" height="200" fill="#e5e7e9"/>
<path d="M210.0 403.6 L211.5 401.8 L213.0 403.6 Z" fill="#6a6d70"/>
<rect x="209.6" y="407.7" width="4.7" height="77.6" fill="#6a7d95"/>
<path d="M210.0 566.6 L211.5 568.4 L213.0 566.6 Z" fill="#6a6d70"/>
</svg>
<!--/card5-->
<div class="card" style="left:259px;top:345.3px;height:240px"></div>
<!--card6-->
<svg class="a" style="left:259px;top:346px;overflow:hidden" width="197" height="229" viewBox="259 346 197 229" font-family="Liberation Sans">
<text transform="translate(265.30 360.50) scale(0.858 1)" font-size="8.6" fill="#32363a">Sales Amount by Sales Employee</text>
<rect x="259" y="377.4" width="197" height="0.9" fill="#e3e8ef"/>
<text transform="translate(446.20 389.60) scale(0.88 1)" font-size="6.2" text-anchor="end" fill="#a3b5e3">Details</text>
<path d="M357.90 429.00 A46.4 46.4 0 0 1 387.66 439.80 L372.91 457.45 A23.4 23.4 0 0 0 357.90 452.00 Z" fill="#d3800a" stroke="#fff" stroke-width="0.4"/>
<path d="M387.66 439.80 A46.4 46.4 0 0 1 396.02 501.86 L377.12 488.74 A23.4 23.4 0 0 0 372.91 457.45 Z" fill="#75a018" stroke="#fff" stroke-width="0.4"/>
<path d="M396.02 501.86 A46.4 46.4 0 0 1 361.26 521.68 L359.59 498.74 A23.4 23.4 0 0 0 377.12 488.74 Z" fill="#df1b7c" stroke="#fff" stroke-width="0.4"/>
<path d="M361.26 521.68 A46.4 46.4 0 0 1 332.12 436.82 L344.90 455.94 A23.4 23.4 0 0 0 359.59 498.74 Z" fill="#9a4cdc" stroke="#fff" stroke-width="0.4"/>
<path d="M332.12 436.82 A46.4 46.4 0 0 1 357.90 429.00 L357.90 452.00 A23.4 23.4 0 0 0 344.90 455.94 Z" fill="#13a0a0" stroke="#fff" stroke-width="0.4"/>
<text x="357.2" y="427.9" font-size="4.85" text-anchor="end" fill="#32363a">866,196.250</text>
<text x="358.7" y="428.6" font-size="4.85" text-anchor="start" fill="#32363a">1,023,871.250</text>
<text x="406.4" y="470.8" font-size="4.85" text-anchor="start" fill="#32363a">2,177,840.500</text>
<text x="382.5" y="522.4" font-size="4.85" text-anchor="start" fill="#32363a">1,310,706.250</text>
<text x="310.9" y="492.9" font-size="4.85" text-anchor="end" fill="#32363a">3,859,406.750</text>
<rect x="268.7" y="550.1" width="5.6" height="5.6" fill="#1c7ff0"/>
<text x="277.0" y="554.75" font-size="4.85" fill="#4b4f53">Alex Mann</text>
<rect x="308.9" y="550.1" width="5.6" height="5.6" fill="#d3800a"/>
<text x="317.2" y="554.75" font-size="4.85" fill="#4b4f53">Bill Levine</text>
<rect x="354.7" y="550.1" width="5.6" height="5.6" fill="#75a018"/>
<text x="363.0" y="554.75" font-size="4.85" fill="#4b4f53">Brad Thompson</text>
<rect x="268.7" y="558.9" width="5.6" height="5.6" fill="#df1b7c"/>
<text x="277.0" y="563.55" font-size="4.85" fill="#4b4f53">Jim Boswick</text>
<rect x="308.9" y="558.9" width="5.6" height="5.6" fill="#9a4cdc"/>
<text x="317.2" y="563.55" font-size="4.85" fill="#4b4f53">Sales Manager</text>
<rect x="354.7" y="558.9" width="5.6" height="5.6" fill="#13a0a0"/>
<text x="363.0" y="563.55" font-size="4.85" fill="#4b4f53">Sophie Klogg</text>
</svg>
<!--/card6-->
<div class="card" style="left:499px;top:345.3px;height:240px"></div>
<!--card7-->
<svg class="a" style="left:499px;top:345px;overflow:hidden" width="197" height="230" viewBox="499 345 197 230" font-family="Liberation Sans">
<text transform="translate(506.20 360.50) scale(0.858 1)" font-size="8.6" fill="#32363a">Top 10 Customer Sales</text>
<rect x="499" y="377.4" width="197" height="0.9" fill="#e3e8ef"/>
<text transform="translate(512.00 390.00) scale(0.872 1)" font-size="6.5" fill="#32363a" stroke="#32363a" stroke-width="0.12">Business Partner Name</text>
<text transform="translate(672.30 390.00) scale(0.872 1)" font-size="6.5" text-anchor="end" fill="#32363a" stroke="#32363a" stroke-width="0.12">Net Sales Amou...</text>
<g stroke="#45494d" stroke-width="0.6" fill="none"><path d="M679.8 385.2 L679.8 388.9 M679.0 388.0 L679.8 388.9 L680.5999999999999 388.0"/><path d="M681.1999999999999 385.5 L683.8 385.5 M681.1999999999999 386.9 L683.1999999999999 386.9 M681.1999999999999 388.3 L682.5 388.3"/></g>
<rect x="616.1" y="378.3" width="0.6" height="18" fill="#e5e7e9"/>
<rect x="499" y="396" width="197" height="0.8" fill="#b9bdc1"/>
<text transform="translate(512.00 408.25) scale(0.872 1)" font-size="6.5" fill="#5a5e62">Maxi-Teq</text>
<text transform="translate(684.10 408.25) scale(0.872 1)" font-size="6.5" text-anchor="end" fill="#5a5e62">1,487,111.750</text>
<rect x="499" y="413.80" width="197" height="0.6" fill="#e5e7e9"/>
<text transform="translate(512.00 425.95) scale(0.872 1)" font-size="6.5" fill="#5a5e62">River Inc</text>
<text transform="translate(684.10 425.95) scale(0.872 1)" font-size="6.5" text-anchor="end" fill="#5a5e62">1,215,696.750</text>
<rect x="499" y="431.50" width="197" height="0.6" fill="#e5e7e9"/>
<text transform="translate(512.00 443.65) scale(0.872 1)" font-size="6.5" fill="#5a5e62">Parameter Technology</text>
<text transform="translate(684.10 443.65) scale(0.872 1)" font-size="6.5" text-anchor="end" fill="#5a5e62">1,186,371.000</text>
<rect x="499" y="449.20" width="197" height="0.6" fill="#e5e7e9"/>
<text transform="translate(512.00 461.35) scale(0.872 1)" font-size="6.5" fill="#5a5e62">Star Company</text>
<text transform="translate(684.10 461.35) scale(0.872 1)" font-size="6.5" text-anchor="end" fill="#5a5e62">1,156,598.250</text>
<rect x="499" y="466.90" width="197" height="0.6" fill="#e5e7e9"/>
<text transform="translate(512.00 479.05) scale(0.872 1)" font-size="6.5" fill="#5a5e62">Aquent Systems</text>
<text transform="translate(684.10 479.05) scale(0.872 1)" font-size="6.5" text-anchor="end" fill="#5a5e62">991,469.500</text>
<rect x="499" y="484.60" width="197" height="0.6" fill="#e5e7e9"/>
<text transform="translate(512.00 496.75) scale(0.872 1)" font-size="6.5" fill="#5a5e62">Earthshaker Corporation</text>
<text transform="translate(684.10 496.75) scale(0.872 1)" font-size="6.5" text-anchor="end" fill="#5a5e62">866,196.250</text>
<rect x="499" y="502.30" width="197" height="0.6" fill="#e5e7e9"/>
<text transform="translate(512.00 514.45) scale(0.872 1)" font-size="6.5" fill="#5a5e62">SG Electronics</text>
<text transform="translate(684.10 514.45) scale(0.872 1)" font-size="6.5" text-anchor="end" fill="#5a5e62">864,165.000</text>
<rect x="499" y="520.00" width="197" height="0.6" fill="#e5e7e9"/>
<text transform="translate(512.00 532.15) scale(0.872 1)" font-size="6.5" fill="#5a5e62">Microchips</text>
<text transform="translate(684.10 532.15) scale(0.872 1)" font-size="6.5" text-anchor="end" fill="#5a5e62">612,922.500</text>
<rect x="499" y="537.70" width="197" height="0.6" fill="#e5e7e9"/>
<text transform="translate(512.00 549.85) scale(0.872 1)" font-size="6.5" fill="#5a5e62">Mashina Corporation</text>
<text transform="translate(684.10 549.85) scale(0.872 1)" font-size="6.5" text-anchor="end" fill="#5a5e62">446,541.250</text>
<rect x="499" y="555.40" width="197" height="0.6" fill="#e5e7e9"/>
<text transform="translate(512.00 567.55) scale(0.872 1)" font-size="6.5" fill="#5a5e62">ADA Technologies</text>
<text transform="translate(684.10 567.55) scale(0.872 1)" font-size="6.5" text-anchor="end" fill="#5a5e62">410,948.750</text>
</svg>
<!--/card7-->
<div class="card" style="left:738.8px;top:345.3px;height:240px"></div>
<!--card8-->
<svg class="a" style="left:738.8px;top:346px;overflow:hidden" width="197" height="229" viewBox="738.8 346 197 229" font-family="Liberation Sans">
<text transform="translate(745.30 360.50) scale(0.858 1)" font-size="8.6" fill="#32363a">Item Group Quantities by Warehouse</text>
<rect x="738.8" y="377.4" width="197" height="0.9" fill="#e3e8ef"/>
<text transform="translate(925.80 389.60) scale(0.88 1)" font-size="6.2" text-anchor="end" fill="#a3b5e3">Details</text>
<rect x="822.10" y="404" width="0.8" height="139.6" fill="#dcdee0"/>
<rect x="855.00" y="404" width="0.8" height="139.6" fill="#dcdee0"/>
<rect x="887.90" y="404" width="0.8" height="139.6" fill="#dcdee0"/>
<rect x="920.80" y="404" width="0.8" height="139.6" fill="#dcdee0"/>
<rect x="789.15" y="404" width="0.7" height="139.6" fill="#c6cbd1"/>
<text x="789.90" y="552.8" font-size="4.8" text-anchor="middle" fill="#55595d">0</text>
<text x="822.80" y="552.8" font-size="4.8" text-anchor="middle" fill="#55595d">5K</text>
<text x="855.70" y="552.8" font-size="4.8" text-anchor="middle" fill="#55595d">10K</text>
<text x="888.60" y="552.8" font-size="4.8" text-anchor="middle" fill="#55595d">15K</text>
<text x="921.50" y="552.8" font-size="4.8" text-anchor="middle" fill="#55595d">20K</text>
<clipPath id="c8clip"><rect x="780" y="404" width="150" height="139.6"/></clipPath>
<text x="786" y="418.90" font-size="4.6" text-anchor="end" fill="#55595d">-NULL-</text>
<rect x="789.85" y="434.00" width="4.9" height="15.8" fill="#d3800a" clip-path="url(#c8clip)"/>
<text x="786" y="443.50" font-size="4.6" text-anchor="end" fill="#55595d">Accessories</text>
<rect x="789.85" y="458.60" width="105.5" height="15.8" fill="#d3800a" clip-path="url(#c8clip)"/>
<text x="786" y="468.10" font-size="4.6" text-anchor="end" fill="#55595d">Items</text>
<rect x="789.85" y="483.20" width="6.7" height="15.8" fill="#d3800a" clip-path="url(#c8clip)"/>
<text x="786" y="492.70" font-size="4.6" text-anchor="end" fill="#55595d">J.B. Printers</text>
<rect x="789.85" y="507.80" width="6.7" height="15.8" fill="#d3800a" clip-path="url(#c8clip)"/>
<text x="786" y="517.30" font-size="4.6" text-anchor="end" fill="#55595d">PC</text>
<rect x="789.85" y="532.40" width="6.7" height="15.8" fill="#d3800a" clip-path="url(#c8clip)"/>
<text x="786" y="541.90" font-size="4.6" text-anchor="end" fill="#55595d">Rainbow Printers</text>
<rect x="922" y="405.4" width="3.4" height="97.7" fill="#5b6d84"/>
<rect x="748.7" y="558.9" width="5.8" height="5.8" fill="#1c7ff0"/>
<rect x="777.2" y="558.9" width="5.8" height="5.8" fill="#d3800a"/>
<rect x="833" y="558.9" width="5.8" height="5.8" fill="#75a018"/>
<text transform="translate(758.20 563.50) scale(0.8 1)" font-size="4.83" fill="#4b4f53">-NULL-</text>
<text x="785.1" y="563.5" font-size="4.83" fill="#4b4f53">General Warehouse</text>
<text x="841" y="563.5" font-size="4.83" fill="#4b4f53">Bin Warehouse</text>
</svg>
<!--/card8-->
</body></html>
